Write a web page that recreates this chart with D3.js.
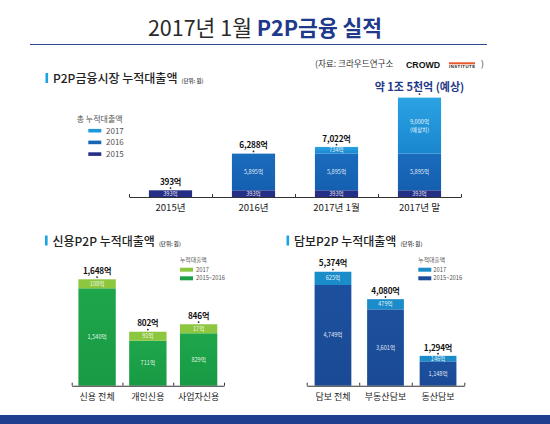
<!DOCTYPE html>
<html><head><meta charset="utf-8">
<script src="https://cdnjs.cloudflare.com/ajax/libs/d3/7.8.5/d3.min.js"></script>
<style>body{margin:0;background:#fff}svg{display:block;font-family:"Noto Sans CJK KR","Noto Sans",sans-serif}</style>
</head><body><svg id="c" width="550" height="424"></svg>
<script>
// ---- data ----
const topCats = ["2015년", "2016년", "2017년 1월", "2017년 말"];
const top2015 = [393, 393, 393, 393];
const top2016 = [0, 5895, 5895, 5895];
const top2017 = [0, 0, 734, 9000];
const top2017Note = ["", "", "", "(예상치)"];
const topTotalLabels = ["393억", "6,288억", "7,022억", "약 1조 5천억 (예상)"];
const topLegend = ["2017", "2016", "2015"];

const creditCats = ["신용 전체", "개인신용", "사업자신용"];
const creditBase = [1540, 711, 829];
const credit2017 = [108, 91, 17];

const collCats = ["담보 전체", "부동산담보", "동산담보"];
const collBase = [4749, 3601, 1148];
const coll2017 = [625, 479, 146];
const bottomLegend = ["2017", "2015~2016"];

// ---- drawing ----
const svg = d3.select("#c");
const fmt = d3.format(",");
const defs = svg.append("defs");
function grad(id, c1, c2){
  const g = defs.append("linearGradient").attr("id", id).attr("x1",0).attr("y1",0).attr("x2",0).attr("y2",1);
  g.append("stop").attr("offset","0%").attr("stop-color",c1);
  g.append("stop").attr("offset","100%").attr("stop-color",c2);
  return `url(#${id})`;
}
const cNavy = "#262f86";
const c2016 = grad("g2016", "#1a6cbd", "#155fb0");
const c2017 = grad("g2017", "#2aa3e3", "#1a86cf");
const cGreenTop = "#8dc63f";
const cGreen = grad("ggreen", "#1fa64b", "#179a43");
const cCollTop = "#1b8cca";
const cColl = grad("gcoll", "#1c509e", "#1a4a95");

// title
const t = svg.append("text").attr("x", 265).attr("y", 36).attr("text-anchor","middle").attr("font-size", 21.5);
t.append("tspan").attr("fill","#2a2a2a").text("2017년 1월 ");
t.append("tspan").attr("fill","#1f3a8a").attr("font-weight","bold").text("P2P금융 실적");
svg.append("line").attr("x1",30).attr("x2",487).attr("y1",44.5).attr("y2",44.5).attr("stroke","#2c4a96").attr("stroke-width",1);
svg.append("text").attr("x",315).attr("y",67.3).attr("font-size",8.6).attr("fill","#333").text("(자료: 크라우드연구소");
svg.append("text").attr("x",406).attr("y",67.8).attr("font-size",8.8).attr("font-weight","bold").attr("fill","#111").attr("font-family","Liberation Sans, Arial").text("CROWD");
svg.append("rect").attr("x",449).attr("y",62.3).attr("width",26).attr("height",2).attr("fill","#e8572a");
svg.append("text").attr("x",449).attr("y",68.3).attr("font-size",4.3).attr("font-weight","bold").attr("fill","#222").attr("font-family","Liberation Sans, Arial").attr("textLength",26).text("INSTITUTE");
svg.append("text").attr("x",481).attr("y",67.3).attr("font-size",8.6).attr("fill","#333").text(")");

// section titles
function section(x, y, label){
  svg.append("rect").attr("x", x).attr("y", y-10).attr("width", 2.6).attr("height", 10).attr("fill", "#1aa3e3");
  const tx = svg.append("text").attr("x", x+7.5).attr("y", y).attr("font-size", 12).attr("font-weight", 500).attr("fill", "#222");
  tx.append("tspan").text(label);
  tx.append("tspan").attr("font-size", 5.5).attr("dx", 4).attr("fill","#333").text("(단위: 원)");
}
section(45.5, 83, "P2P금융시장 누적대출액");
section(45, 245.5, "신용P2P 누적대출액");
section(286.5, 245.5, "담보P2P 누적대출액");

// generic stacked chart
function chart(o){
  const n = o.cats.length;
  const x = d3.scaleBand().domain(o.cats).range([o.x0, o.x1]).paddingInner(o.pi).paddingOuter(o.pi/2);
  const h = d3.scaleLinear().domain([0, o.dmax]).range([0, o.hmax]);
  const g = svg.append("g");
  const tops = [];
  o.cats.forEach((c, i) => {
    let y = o.base;
    o.series.forEach((s, si) => {
      const v = s.vals[i];
      if (!v) return;
      const hh = Math.max(h(v), s.min);
      y -= hh;
      g.append("rect").attr("x", x(c)).attr("y", y).attr("width", x.bandwidth()).attr("height", hh).attr("fill", s.color);
      const note = s.notes ? s.notes[i] : "";
      const cy = y + hh/2;
      const lab = g.append("text").attr("x", x(c) + x.bandwidth()/2).attr("text-anchor","middle")
        .attr("font-size", o.inFont).attr("fill", "rgba(255,255,255,0.9)");
      if (note){
        lab.attr("y", cy - 1.5).text(fmt(v) + "억");
        g.append("text").attr("x", x(c) + x.bandwidth()/2).attr("y", cy + 6).attr("text-anchor","middle")
          .attr("font-size", o.inFont).attr("fill","rgba(255,255,255,0.9)").text(note);
      } else {
        lab.attr("y", cy + o.inFont*0.36).text(fmt(v) + "억");
      }
    });
    tops.push(y);
  });
  o.cats.forEach((c, i) => {
    const cx = x(c) + x.bandwidth()/2;
    const big = o.bigLast && i === n-1;
    g.append("circle").attr("cx", cx).attr("cy", tops[i] - (big ? 3.5 : 2.2)).attr("r", 0.9).attr("fill", "#222");
    g.append("text").attr("x", cx).attr("y", tops[i] - (big ? 6.5 : 5.3)).attr("text-anchor","middle")
      .attr("font-size", big ? 11 : 8.2).attr("font-weight","bold").attr("fill", big ? "#1f3a8a" : "#111")
      .attr("letter-spacing", big ? 0 : -0.2)
      .text(o.totals[i]);
  });
  const xi = d3.scaleLinear().domain([0, n]).range([o.x0, o.x1]);
  const ax = g.append("g").attr("transform", `translate(0,${o.base})`)
    .call(d3.axisBottom(xi).tickValues(d3.range(n+1)).tickSize(-3).tickSizeOuter(0).tickFormat(""));
  ax.select(".domain").attr("stroke", "#333").attr("stroke-width", 1.1);
  ax.selectAll(".tick line").attr("stroke", "#333");
  const cx = g.append("g").attr("transform", `translate(0,${o.base + o.labDy})`)
    .call(d3.axisBottom(x).tickSize(0).tickPadding(0));
  cx.select(".domain").remove();
  cx.selectAll("text").attr("font-size", o.catFont).attr("fill", "#222").attr("dy", 0).attr("y", 0)
    .attr("font-family", '"Noto Sans CJK KR","Noto Sans",sans-serif');
}

chart({
  cats: topCats, x0: 129, x1: 461, pi: 0.48, base: 197, dmax: 9000, hmax: 56,
  series: [
    {vals: top2015, color: cNavy, min: 6.7},
    {vals: top2016, color: c2016, min: 6.7},
    {vals: top2017, color: c2017, min: 6.7, notes: top2017Note}
  ],
  totals: topTotalLabels, bigLast: true, inFont: 5.6, catFont: 9.6, labDy: 14
});

chart({
  cats: creditCats, x0: 71.7, x1: 224, pi: 0.264, base: 385.7, dmax: 1540, hmax: 97.4,
  series: [
    {vals: creditBase, color: cGreen, min: 6},
    {vals: credit2017, color: cGreenTop, min: 9}
  ],
  totals: creditBase.map((v, i) => fmt(v + credit2017[i]) + "억"), inFont: 5.6, catFont: 9, labDy: 13.8
});

chart({
  cats: collCats, x0: 306.7, x1: 464.3, pi: 0.30, base: 385.7, dmax: 4749, hmax: 100.7,
  series: [
    {vals: collBase, color: cColl, min: 6},
    {vals: coll2017, color: cCollTop, min: 5.5}
  ],
  totals: collBase.map((v, i) => fmt(v + coll2017[i]) + "억"), inFont: 5.6, catFont: 9, labDy: 13.8
});

function legend(x, y, title, items, colors, opt){
  svg.append("text").attr("x", x - opt.tdx).attr("y", y).attr("font-size", opt.fs).attr("fill", "#555").text(title);
  items.forEach((it, i) => {
    const yy = y + opt.first + i*opt.step;
    svg.append("rect").attr("x", x).attr("y", yy - opt.sh/2).attr("width", 13).attr("height", opt.sh).attr("fill", colors[i]);
    svg.append("text").attr("x", x + opt.lx).attr("y", yy + opt.fs*0.36).attr("font-size", opt.fs).attr("fill", "#555").text(it);
  });
}
legend(88.3, 121.5, "총 누적대출액", topLegend, ["#1c98dd", "#1766b6", cNavy], {tdx: 11.6, fs: 8, first: 9.2, step: 11.7, sh: 3.6, lx: 17.7});
legend(180, 261.5, "누적대출액", bottomLegend, [cGreenTop, "#1ca048"], {tdx: 0, fs: 5.8, first: 8.2, step: 8.6, sh: 4, lx: 16});
legend(418.3, 261.5, "누적대출액", bottomLegend, [cCollTop, "#1b4d9b"], {tdx: 0, fs: 5.8, first: 8.2, step: 8.6, sh: 4, lx: 15});

svg.append("rect").attr("x", 0).attr("y", 415).attr("width", 550).attr("height", 9).attr("fill", "#1f3f8f");
</script></body></html>
